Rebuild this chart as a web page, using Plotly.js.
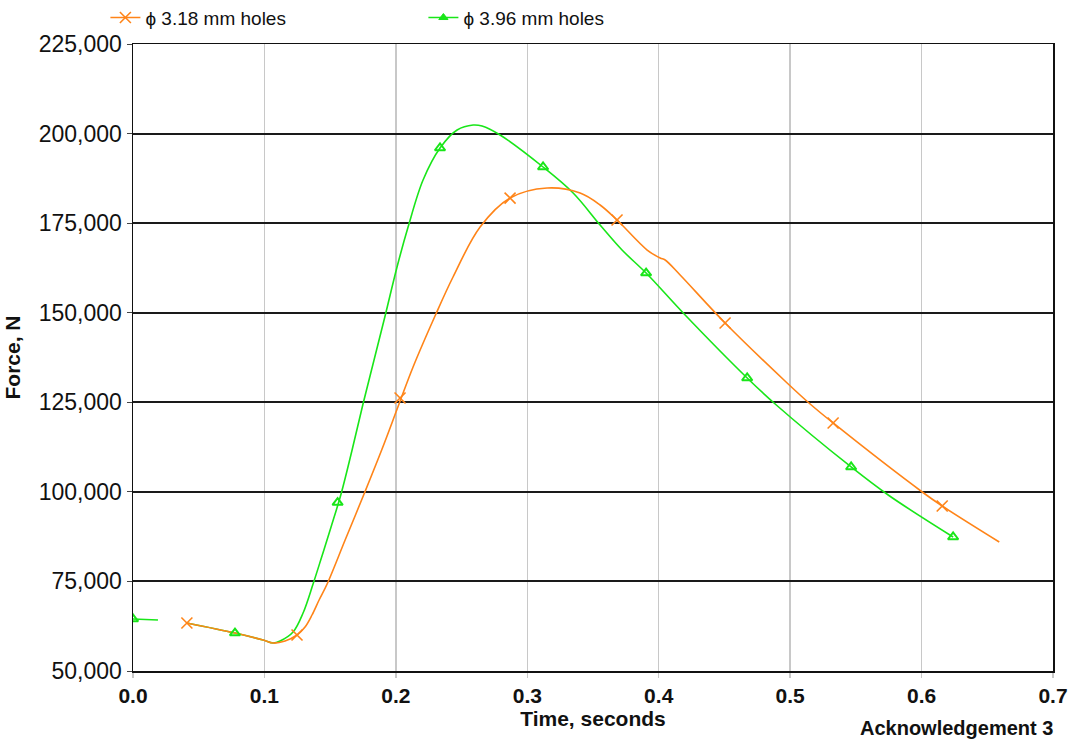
<!DOCTYPE html>
<html>
<head>
<meta charset="utf-8">
<script src="https://cdn.plot.ly/plotly-3.0.1.min.js"></script>
<style>
html,body{margin:0;padding:0;background:#fff;}
#chart{width:1078px;height:740px;}
</style>
</head>
<body>
<div id="chart"></div>
<script>
// Series names
const seriesNames = ["\u03d5 3.18 mm holes", "\u03d5 3.96 mm holes"];

// Orange curve (3.18 mm holes): time (s) and force (N)
const orangeTime  = [0.041, 0.0776, 0.099, 0.1066, 0.1157, 0.1248, 0.1309, 0.1362, 0.1416, 0.1477, 0.1614, 0.1758, 0.1895, 0.2024, 0.2131, 0.2298, 0.2435, 0.2641, 0.2869, 0.3151, 0.3402, 0.3554, 0.3683, 0.3912, 0.4011, 0.4049, 0.4163, 0.4505, 0.4977, 0.5152, 0.5327, 0.6005, 0.6157, 0.6591];
const orangeForce = [63400, 60600, 58650, 57800, 58370, 60050, 62280, 65630, 69820, 74280, 86560, 99400, 111960, 124520, 134850, 149080, 159970, 173900, 182000, 184800, 183400, 180060, 175870, 167500, 165270, 164710, 160520, 147130, 130380, 124520, 119220, 99960, 96050, 86000];

// Orange marker points
const orangeMarkTime  = [0.041, 0.1248, 0.2032, 0.2869, 0.3683, 0.4505, 0.5327, 0.6157];
const orangeMarkForce = [63400, 60050, 126200, 182000, 175870, 147130, 119220, 96050];

// Green curve (3.96 mm holes): null marks the gap in the record
const greenTime  = [0, 0.019, 0.03, 0.041, 0.0776, 0.099, 0.1066, 0.1119, 0.1218, 0.1294, 0.1370, 0.1438, 0.1507, 0.1583, 0.1667, 0.1750, 0.1834, 0.1918, 0.2009, 0.2093, 0.2207, 0.2336, 0.2466, 0.2588, 0.2656, 0.2793, 0.3120, 0.3349, 0.3554, 0.3721, 0.3904, 0.4201, 0.4673, 0.4886, 0.5464, 0.5746, 0.6240];
const greenForce = [64510, 64230, null, 63400, 60600, 58650, 57800, 58370, 60880, 66190, 74280, 82100, 90190, 99400, 111690, 124520, 136800, 149080, 162760, 173920, 187040, 195970, 201000, 202390, 202100, 199600, 190670, 183410, 174480, 167500, 161080, 149360, 131780, 124520, 106940, 99120, 87400];

// Green marker points
const greenMarkTime  = [0, 0.0776, 0.1557, 0.2336, 0.3120, 0.3904, 0.4673, 0.5464, 0.6240];
const greenMarkForce = [64510, 60600, 97000, 195970, 190670, 161080, 131780, 106940, 87400];

// Axis ticks
const xTicks = [0, 0.1, 0.2, 0.3, 0.4, 0.5, 0.6, 0.7];
const xTickText = ["0.0", "0.1", "0.2", "0.3", "0.4", "0.5", "0.6", "0.7"];
const yTicks = [50000, 75000, 100000, 125000, 150000, 175000, 200000, 225000];

const orange = "#ff8418";
const green = "#19e619";
const lineW = 1.6;

const traces = [
  {x: greenTime, y: greenForce, mode: "lines", connectgaps: false,
   line: {color: green, width: lineW, shape: "spline", smoothing: 1.0},
   showlegend: false, hoverinfo: "skip"},
  {x: orangeTime, y: orangeForce, mode: "lines", connectgaps: false,
   line: {color: orange, width: lineW, shape: "spline", smoothing: 1.0},
   showlegend: false, hoverinfo: "skip"},
  {x: greenMarkTime, y: greenMarkForce, mode: "markers",
   marker: {symbol: "triangle-up-open", size: 9, color: green, line: {width: 2, color: green}},
   showlegend: false},
  {x: orangeMarkTime, y: orangeMarkForce, mode: "markers",
   marker: {symbol: "x-thin-open", size: 11, color: orange, line: {width: 1.6, color: orange}},
   showlegend: false},
  // legend entries
  {x: [null], y: [null], mode: "lines+markers", name: seriesNames[0],
   line: {color: orange, width: lineW},
   marker: {symbol: "x-thin-open", size: 11, color: orange, line: {width: 1.6, color: orange}}},
  {x: [null], y: [null], mode: "lines+markers", name: seriesNames[1],
   line: {color: green, width: lineW},
   marker: {symbol: "triangle-up", size: 8, color: green, line: {width: 1, color: green}}}
];

const layout = {
  width: 1078, height: 740,
  margin: {l: 133, r: 25, t: 44, b: 69, autoexpand: false},
  paper_bgcolor: "#ffffff",
  plot_bgcolor: "#ffffff",
  font: {family: "Liberation Sans, Arial, sans-serif", color: "#111"},
  showlegend: true,
  legend: {
    orientation: "h",
    x: -0.03, xanchor: "left",
    y: 1.042, yanchor: "middle",
    entrywidth: 273, entrywidthmode: "pixels",
    font: {family: "Liberation Sans, Arial, sans-serif", size: 19, color: "#111"},
    bgcolor: "rgba(0,0,0,0)",
    itemwidth: 30
  },
  xaxis: {
    range: [0, 0.7],
    tickvals: xTicks, ticktext: xTickText,
    showgrid: true, gridcolor: "#c8c8c8", gridwidth: 1.5,
    zeroline: false,
    showline: true, linecolor: "#111", linewidth: 1.5, mirror: true,
    ticks: "outside", ticklen: 5, tickcolor: "#c8c8c8", tickwidth: 1.5,
    tickfont: {family: "Liberation Sans, Arial, sans-serif", size: 21, color: "#111", weight: "bold"},
    title: {text: "<b>Time, seconds</b>", font: {family: "Liberation Sans, Arial, sans-serif", size: 21, color: "#111"}, standoff: 4}
  },
  yaxis: {
    range: [50000, 225000],
    tickvals: yTicks, tickformat: ",d",
    showgrid: true, gridcolor: "#1a1a1a", gridwidth: 2,
    zeroline: false,
    showline: true, linecolor: "#111", linewidth: 1.5, mirror: true,
    ticks: "outside", ticklen: 5, tickcolor: "#444", tickwidth: 1,
    tickfont: {family: "Liberation Sans, Arial, sans-serif", size: 23, color: "#111"},
    title: {text: "<b>Force, N</b>", font: {family: "Liberation Sans, Arial, sans-serif", size: 21, color: "#111"}, standoff: 12}
  },
  annotations: [
    {text: "<b>Acknowledgement 3</b>", xref: "paper", yref: "paper",
     x: 1.002, xanchor: "right", y: -0.091, yanchor: "middle", showarrow: false,
     font: {family: "Liberation Sans, Arial, sans-serif", size: 20, color: "#111"}}
  ]
};

Plotly.newPlot("chart", traces, layout, {displayModeBar: false, staticPlot: true});
</script>
</body>
</html>
